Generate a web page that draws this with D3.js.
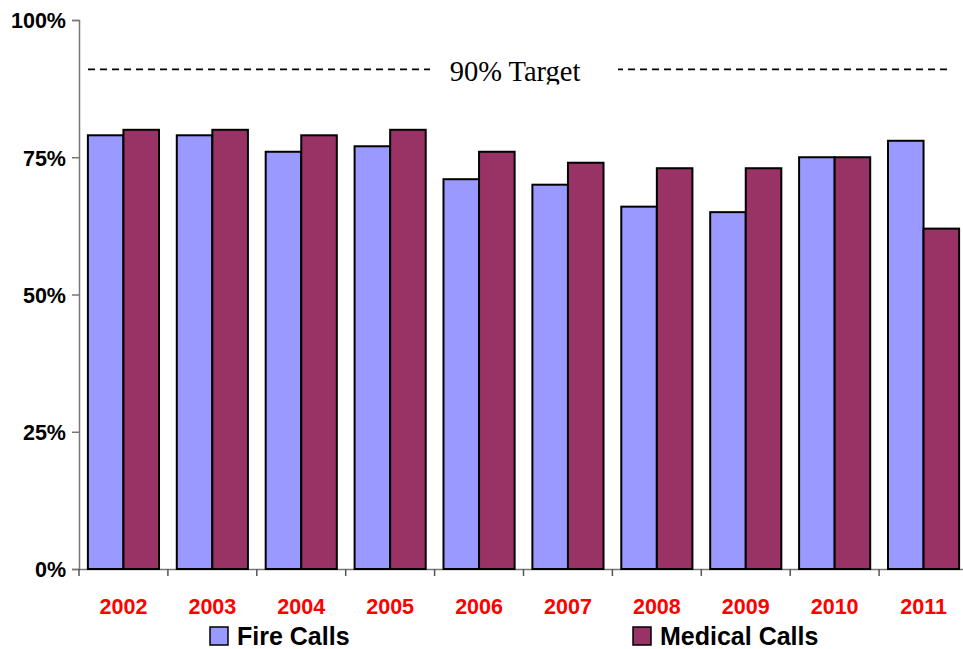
<!DOCTYPE html>
<meta charset="utf-8">
<title>Fire and Medical Calls</title>
<style>
body { margin: 0; background: #fff; }
.tick text { font: bold 21.5px "Liberation Sans", Arial, sans-serif; }
.bar { stroke: #000; stroke-width: 2px; }
.legend text { font: bold 25px "Liberation Sans", Arial, sans-serif; fill: #000; }
</style>
<svg width="963" height="649"></svg>
<script src="https://d3js.org/d3.v7.min.js"></script>
<script>

var years = ["2002","2003","2004","2005","2006","2007","2008","2009","2010","2011"];
var fireCalls = [0.79, 0.79, 0.76, 0.77, 0.71, 0.70, 0.66, 0.65, 0.75, 0.78];
var medicalCalls = [0.80, 0.80, 0.79, 0.80, 0.76, 0.74, 0.73, 0.73, 0.75, 0.62];
var seriesNames = ["Fire Calls", "Medical Calls"];
var seriesColors = ["#9999ff", "#993366"];
var yTicks = [0, 0.25, 0.5, 0.75, 1];
var target = 0.91;
var targetLabel = "90% Target";

var svg = d3.select("svg");

var x = d3.scaleBand().domain(years).range([79, 968]).paddingInner(0.2).paddingOuter(0.1);
var x1 = d3.scaleBand().domain(seriesNames).range([0, x.bandwidth()]);
var y = d3.scaleLinear().domain([0, 1]).range([569, 20]);

// y axis
var yAxis = svg.append("g")
    .attr("transform", "translate(79,0)")
    .call(d3.axisLeft(y).tickValues(yTicks).tickFormat(d3.format(".0%")).tickSize(7).tickPadding(6));
yAxis.select(".domain").attr("stroke", "#777").attr("stroke-width", 1.5);
yAxis.selectAll(".tick line").attr("stroke", "#777").attr("stroke-width", 1.5);
yAxis.selectAll(".tick text").attr("fill", "#000").attr("dy", "0.36em");

// x axis, ticks between categories
var xAxis = svg.append("g")
    .attr("transform", "translate(0,569)")
    .call(d3.axisBottom(x).tickSize(0).tickPadding(30));
xAxis.select(".domain").attr("stroke", "#777").attr("stroke-width", 1.5);
xAxis.selectAll(".tick text").attr("fill", "#ff0000");
xAxis.selectAll(".sep")
    .data(years)
    .enter().append("line")
    .attr("class", "sep")
    .attr("x1", function(d) { return x(d) - x.step() * x.paddingOuter(); })
    .attr("x2", function(d) { return x(d) - x.step() * x.paddingOuter(); })
    .attr("y1", 0).attr("y2", 7)
    .attr("stroke", "#555").attr("stroke-width", 1.5);

// bars
var groups = svg.selectAll(".year")
    .data(years)
    .enter().append("g")
    .attr("class", "year")
    .attr("transform", function(d) { return "translate(" + x(d) + ",0)"; });

groups.selectAll("rect")
    .data(function(d, i) { return [fireCalls[i], medicalCalls[i]].map(function(v, j) { return {s: seriesNames[j], v: v, c: seriesColors[j]}; }); })
    .enter().append("rect")
    .attr("class", "bar")
    .attr("x", function(d) { return x1(d.s); })
    .attr("width", x1.bandwidth())
    .attr("y", function(d) { return y(d.v); })
    .attr("height", function(d) { return y(0) - y(d.v); })
    .attr("fill", function(d) { return d.c; });

// target line
svg.append("line")
    .attr("x1", 88).attr("x2", 948)
    .attr("y1", y(target)).attr("y2", y(target))
    .attr("stroke", "#000").attr("stroke-width", 1.8)
    .attr("stroke-dasharray", "7,5");

svg.append("clipPath").attr("id", "tclip")
  .append("rect").attr("x", 430).attr("y", y(target) - 14).attr("width", 188).attr("height", 29);
svg.append("rect")
    .attr("x", 430).attr("y", y(target) - 14).attr("width", 188).attr("height", 29)
    .attr("fill", "#fff");
svg.append("text")
    .attr("clip-path", "url(#tclip)")
    .attr("x", 515).attr("y", y(target) + 12)
    .attr("text-anchor", "middle")
    .style("font", "28.5px 'Liberation Serif', 'Times New Roman', serif")
    .text(targetLabel);

// legend
var legendX = [210, 633];
var legend = svg.selectAll(".legend")
    .data(seriesNames)
    .enter().append("g")
    .attr("class", "legend")
    .attr("transform", function(d, i) { return "translate(" + legendX[i] + ",627)"; });
legend.append("rect")
    .attr("width", 18).attr("height", 18)
    .attr("fill", function(d, i) { return seriesColors[i]; })
    .attr("stroke", "#000").attr("stroke-width", 1.5);
legend.append("text")
    .attr("x", 27).attr("y", 18)
    .text(function(d) { return d; });

</script>
